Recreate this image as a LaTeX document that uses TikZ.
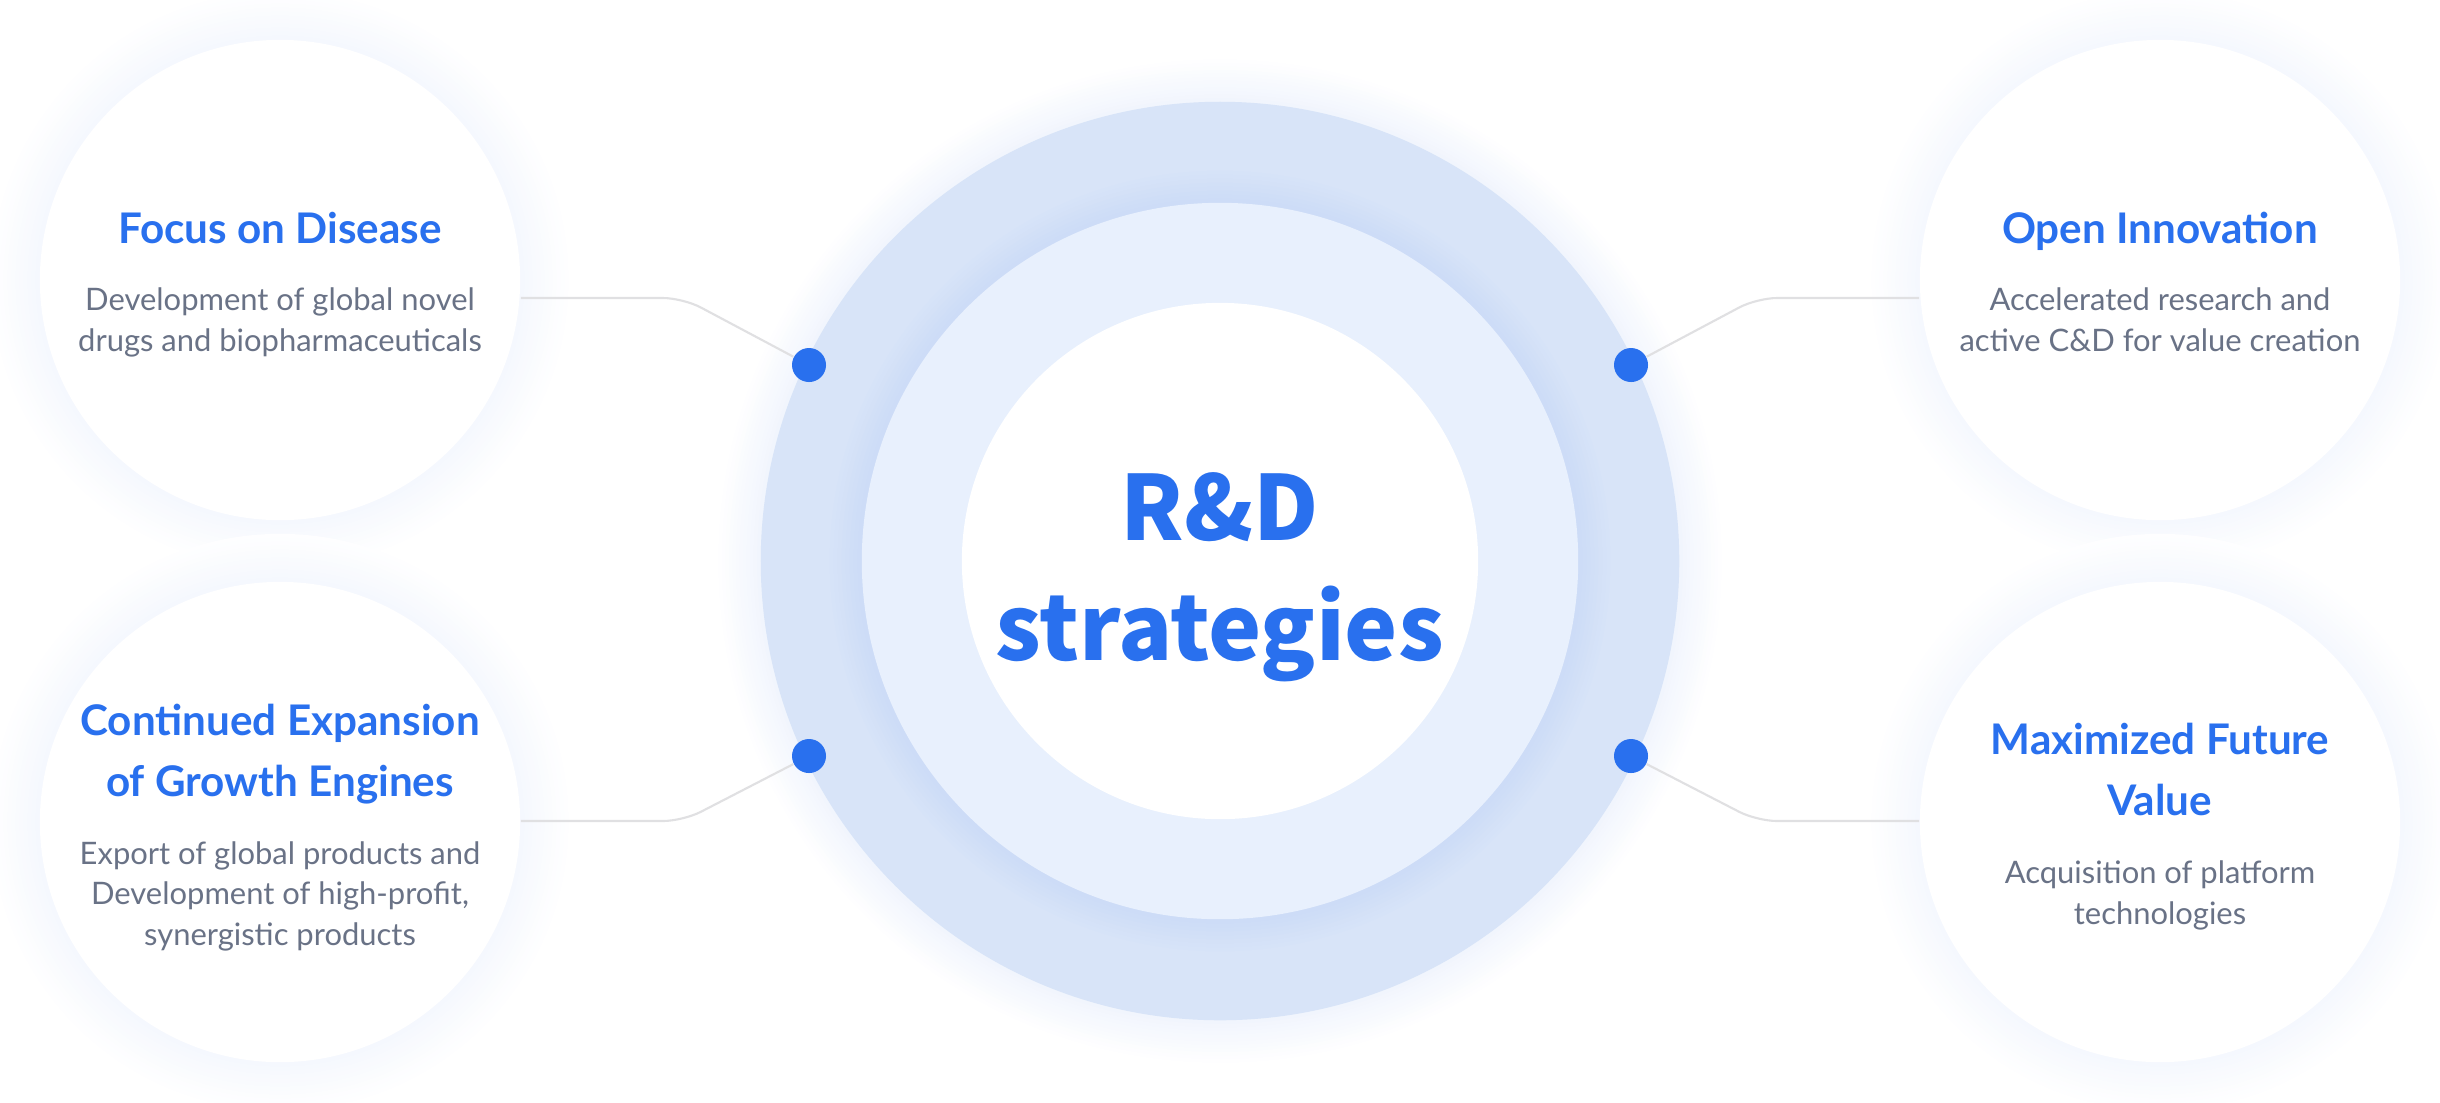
\documentclass[tikz,border=0pt]{standalone}
\usepackage{fontspec}
\newfontfamily\labelfont{Lato}
\newfontfamily\centrefont{Noto Sans CJK KR}
\usetikzlibrary{positioning,calc}

\definecolor{rdblue}{RGB}{41,112,238}
\definecolor{ringout}{RGB}{216,228,248}
\definecolor{ringmid}{RGB}{232,240,253}
\definecolor{textgray}{RGB}{105,114,134}
\definecolor{linegray}{RGB}{224,224,226}
\definecolor{glowblue}{RGB}{150,180,240}
\definecolor{haze}{RGB}{175,198,245}

\begin{document}
\begin{tikzpicture}[x=0.01cm,y=-0.01cm,
	topic/.style={circle,fill=white,minimum size=4.8cm,inner sep=0pt},
	dot/.style={circle,fill=rdblue,minimum size=0.34cm,inner sep=0pt},
	link/.style={draw=linegray,line width=0.6pt,rounded corners=0.2cm},
	title/.style={text=rdblue,align=center,anchor=base,
		font=\labelfont\bfseries\fontsize{12}{17.1}\selectfont},
	desc/.style={text=textgray,align=center,anchor=base,
		font=\labelfont\fontsize{8.8}{11.4}\selectfont}]

\useasboundingbox (0,0) rectangle (2440,1102);
\fill[white] (0,0) rectangle (2440,1102);

\coordinate (c) at (1220,561);

% glow and rings, outermost first
\foreach \k [evaluate=\k as \p using (13-\k)*1.4] in {12,...,1}
	\fill[haze!\p!white] (c) circle[radius={4.59cm+\k*0.35mm}];
\fill[ringout] (c) circle[radius=4.59cm];
\foreach \k [evaluate=\k as \p using (9-\k)*2.2] in {8,...,1}
	\fill[glowblue!\p!ringout] (c) circle[radius={3.58cm+\k*0.4mm}];
\fill[ringmid] (c) circle[radius=3.58cm];
\fill[white] (c) circle[radius=2.58cm];

% last line sits on the anchor
\node[text=rdblue,align=center,anchor=base,
	font=\centrefont\bfseries\fontsize{25.5}{34.1}\selectfont]
	(rd) at (1220,660) {R\&D\\strategies};

% the four topics
\foreach \n/\x/\y in {focus/280/280,growth/280/822,open/2160/280,future/2160/822}{
	\foreach \k [evaluate=\k as \p using (13-\k)*1.0] in {12,...,1}
		\fill[haze!\p!white] (\x,\y) circle[radius={2.4cm+\k*0.4mm}];
	\node[topic] (\n) at (\x,\y) {};
}

\node[title] (focust) at (280,243) {Focus on Disease};
\node[desc] (focusd) at (280,351) {Development of global novel\\drugs and biopharmaceuticals};

\node[title] (growtht) at (280,796) {Continued Expansion\\of Growth Engines};
\node[desc] (growthd) at (280,945) {Export of global products and\\Development of high-profit,\\synergistic products};

\node[title] (opent) at (2160,243) {Open Innovation};
\node[desc] (opend) at (2160,351) {Accelerated research and\\active C\&D for value creation};

\node[title] (futuret) at (2160,815) {Maximized Future\\Value};
\node[desc] (futured) at (2160,924) {Acquisition of platform\\technologies};

% dots and links
\node[dot] (dfocus) at (809,365) {};
\node[dot] (dgrowth) at (809,756) {};
\node[dot] (dopen) at (1631,365) {};
\node[dot] (dfuture) at (1631,756) {};

\coordinate (efocus) at (683,298);
\coordinate (egrowth) at (683,821);
\coordinate (eopen) at (1757,298);
\coordinate (efuture) at (1757,821);

\draw[link] (dfocus) -- (efocus) -- (focus.east |- efocus);
\draw[link] (dgrowth) -- (egrowth) -- (growth.east |- egrowth);
\draw[link] (dopen) -- (eopen) -- (open.west |- eopen);
\draw[link] (dfuture) -- (efuture) -- (future.west |- efuture);

\end{tikzpicture}
\end{document}
